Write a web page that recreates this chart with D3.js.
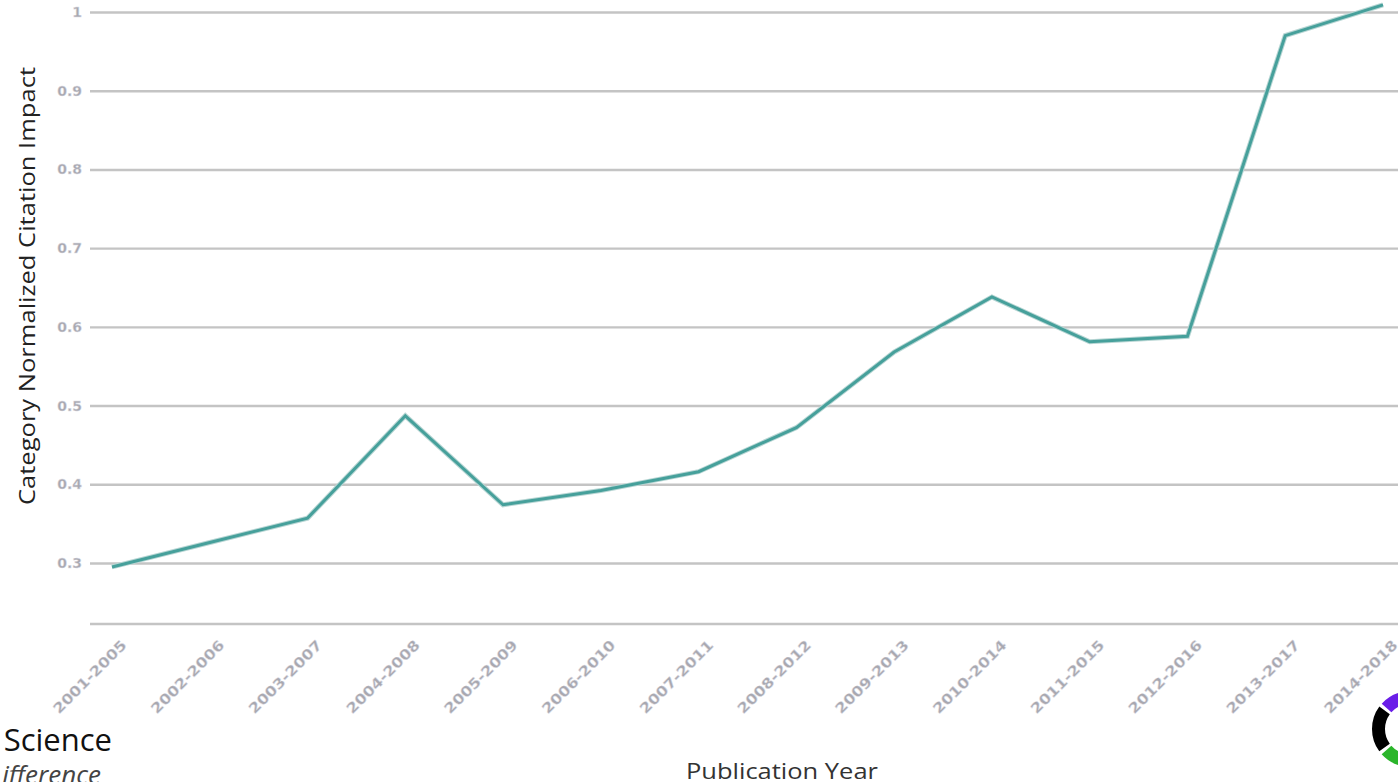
<!DOCTYPE html>
<meta charset="utf-8">
<head>
    <title>Category Normalized Citation Impact</title>
</head>
<style>
    body {
        margin: 0;
        background-color: #ffffff;
        font-family: "Open Sans", Arial;
        overflow: hidden;
    }

    .grid line {
        stroke: #c4c4c4;
        stroke-width: 2.4px;
    }

    .grid path {
        display: none;
    }

    .tick text {
        fill: #a8a8b0;
        stroke: #e0e0e8;
        stroke-width: 0.4px;
        font-family: "DejaVu Sans", Arial;
        font-size: 14px;
        font-weight: 700;
    }
</style>
<body>
    <svg width="1398" height="782"></svg>
</body>
<script src="https://d3js.org/d3.v7.min.js"></script>
<script>
    // data
    var periods = ["2001-2005", "2002-2006", "2003-2007", "2004-2008", "2005-2009",
        "2006-2010", "2007-2011", "2008-2012", "2009-2013", "2010-2014",
        "2011-2015", "2012-2016", "2013-2017", "2014-2018"];
    var cnci = [0.295, 0.326, 0.357, 0.487, 0.374, 0.392, 0.416, 0.472, 0.568, 0.638,
        0.581, 0.588, 0.970, 1.009];
    var yTicks = [0.3, 0.4, 0.5, 0.6, 0.7, 0.8, 0.9, 1];

    var svg = d3.select("svg");

    var data = periods.map((p, i) => ({ period: p, value: cnci[i] }));

    var x = d3.scalePoint()
        .domain(periods)
        .range([112, 1383]);

    var y = d3.scaleLinear()
        .domain([0.3, 1])
        .range([563, 12]);

    var left = 90, right = 1398;

    // horizontal grid lines
    var yAxis = d3.axisLeft(y)
        .tickValues(yTicks)
        .tickSize(-(right - left))
        .tickPadding(10)
        .tickFormat(d => d3.format("")(d));

    var gy = svg.append("g")
        .attr("class", "grid")
        .attr("transform", "translate(" + left + ",0)")
        .call(yAxis);

    gy.selectAll(".tick text").attr("x", -8);

    // baseline
    svg.append("line")
        .attr("x1", left)
        .attr("x2", right)
        .attr("y1", 624)
        .attr("y2", 624)
        .attr("stroke", "#c4c4c4")
        .attr("stroke-width", 2.4);

    // x labels, rotated
    var xAxis = d3.axisBottom(x)
        .tickSize(0)
        .tickPadding(0);

    var gx = svg.append("g")
        .attr("class", "grid")
        .attr("transform", "translate(0,635)")
        .call(xAxis);

    gx.selectAll(".tick text")
        .attr("text-anchor", "end")
        .attr("dy", 0)
        .attr("y", 0)
        .attr("textLength", 97)
        .attr("lengthAdjust", "spacingAndGlyphs")
        .attr("transform", "translate(15,11) rotate(-45)");

    // the line
    var line = d3.line()
        .x(d => x(d.period))
        .y(d => y(d.value));

    svg.append("path")
        .datum(data)
        .attr("fill", "none")
        .attr("stroke", "#b8d6d4")
        .attr("stroke-width", 5)
        .attr("stroke-linejoin", "miter")
        .attr("d", line);

    svg.append("path")
        .datum(data)
        .attr("fill", "none")
        .attr("stroke", "#46a09b")
        .attr("stroke-width", 3)
        .attr("stroke-linejoin", "miter")
        .attr("d", line);

    // axis titles
    svg.append("text")
        .attr("transform", "translate(35,286) rotate(-90)")
        .attr("text-anchor", "middle")
        .attr("font-family", "Open Sans, Arial")
        .attr("font-size", 22)
        .attr("fill", "#222")
        .attr("textLength", 438)
        .attr("lengthAdjust", "spacingAndGlyphs")
        .text("Category Normalized Citation Impact");

    svg.append("text")
        .attr("x", 782)
        .attr("y", 779)
        .attr("text-anchor", "middle")
        .attr("font-family", "Open Sans, Arial")
        .attr("font-size", 22)
        .attr("fill", "#333")
        .attr("textLength", 192)
        .attr("lengthAdjust", "spacingAndGlyphs")
        .text("Publication Year");

    // cropped logo pieces
    svg.append("text")
        .attr("x", 112)
        .attr("y", 751)
        .attr("text-anchor", "end")
        .attr("font-family", "Open Sans, Arial")
        .attr("font-size", 31)
        .attr("fill", "#111")
        .text("Science");

    svg.append("text")
        .attr("x", 101)
        .attr("y", 784)
        .attr("text-anchor", "end")
        .attr("font-family", "Open Sans, Arial")
        .attr("font-style", "italic")
        .attr("font-size", 26)
        .attr("fill", "#444")
        .text("ifference");

    var arc = d3.arc().innerRadius(25).outerRadius(38);
    var logo = svg.append("g").attr("transform", "translate(1410,729)");
    logo.append("path").attr("fill", "#000")
        .attr("d", arc({ startAngle: -2.2, endAngle: -0.94 }));
    logo.append("path").attr("fill", "#6a1ee8")
        .attr("d", arc({ startAngle: -0.84, endAngle: -0.3 }));
    logo.append("path").attr("fill", "#2bb52b")
        .attr("d", arc({ startAngle: -2.84, endAngle: -2.3 }));
</script>
